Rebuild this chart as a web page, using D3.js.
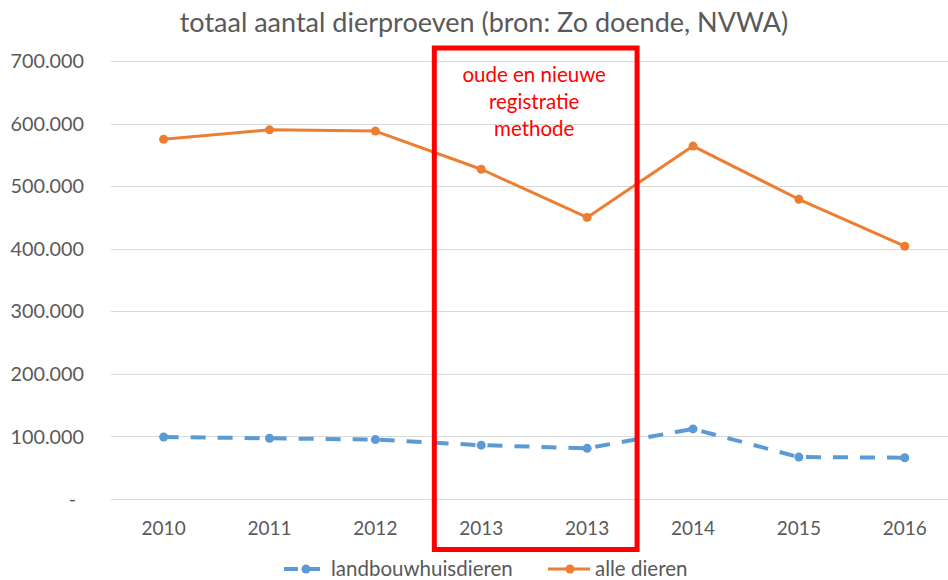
<!DOCTYPE html>
<html>
<head>
<meta charset="utf-8">
<script src="https://cdn.jsdelivr.net/npm/d3@7"></script>
<style>
  body { margin: 0; background: #fff; }
  svg { display: block; font-family: Lato, "Open Sans", sans-serif; }
</style>
</head>
<body>
<svg id="chart" width="948" height="580"></svg>
<script>
const years = ["2010", "2011", "2012", "2013", "2013", "2014", "2015", "2016"];
const landbouw = [99000, 97000, 95000, 86000, 81000, 112000, 67000, 66000];
const alleDieren = [575000, 590000, 588000, 527000, 450000, 564000, 479000, 404000];
const yTicks = [0, 100000, 200000, 300000, 400000, 500000, 600000, 700000];
const boxCats = [3, 4]; // the two 2013 columns

const svg = d3.select("#chart"),
      width = +svg.attr("width"),
      height = +svg.attr("height");

const x = d3.scaleBand()
    .domain(years.map((d, i) => i))
    .range([110.7, 957.7]);

const y = d3.scaleLinear()
    .domain([0, 700000])
    .range([499, 61]);

const nl = d3.formatLocale({ decimal: ",", thousands: ".", grouping: [3], currency: ["€", ""] });
const fmt = v => v === 0 ? "-" : nl.format(",")(v);

// title
svg.append("text")
    .attr("x", 484)
    .attr("y", 32)
    .attr("text-anchor", "middle")
    .style("font-size", "27px")
    .style("fill", "#595959")
    .text("totaal aantal dierproeven (bron: Zo doende, NVWA)");

// gridlines
svg.append("g")
    .selectAll("line")
    .data(yTicks)
    .enter().append("line")
    .attr("x1", x.range()[0])
    .attr("x2", x.range()[1])
    .attr("y1", d => Math.round(y(d)) + 0.5)
    .attr("y2", d => Math.round(y(d)) + 0.5)
    .style("stroke", "#d9d9d9")
    .style("stroke-width", 1);

// y labels
svg.append("g")
    .selectAll("text")
    .data(yTicks)
    .enter().append("text")
    .attr("x", d => d === 0 ? 76 : 84)
    .attr("y", d => y(d))
    .attr("dy", "0.36em")
    .attr("text-anchor", "end")
    .style("font-size", "19.8px")
    .style("fill", "#595959")
    .text(fmt);

// x labels
svg.append("g")
    .selectAll("text")
    .data(years)
    .enter().append("text")
    .attr("x", (d, i) => x(i) + x.bandwidth() / 2)
    .attr("y", 535)
    .attr("text-anchor", "middle")
    .style("font-size", "19px")
    .style("fill", "#595959")
    .text(d => d);

const cx = i => x(i) + x.bandwidth() / 2;
const line = d3.line().x((d, i) => cx(i)).y(d => y(d));

// series
const series = [
    { name: "landbouwhuisdieren", values: landbouw, color: "#5B9BD5", width: 4, dash: "15,12" },
    { name: "alle dieren", values: alleDieren, color: "#ED7D31", width: 3, dash: null }
];

series.forEach(s => {
    svg.append("path")
        .datum(s.values)
        .attr("d", line)
        .style("fill", "none")
        .style("stroke", s.color)
        .style("stroke-width", s.width)
        .style("stroke-dasharray", s.dash)
        .style("stroke-linejoin", "round");

    svg.append("g")
        .selectAll("circle")
        .data(s.values)
        .enter().append("circle")
        .attr("cx", (d, i) => cx(i))
        .attr("cy", d => y(d))
        .attr("r", 4.5)
        .style("fill", s.color);
});

// red annotation box around the two 2013 columns
svg.append("rect")
    .attr("x", x(boxCats[0]) + 6)
    .attr("y", 48)
    .attr("width", x(boxCats[1]) + x.bandwidth() - 3 - (x(boxCats[0]) + 6))
    .attr("height", 501.5)
    .style("fill", "none")
    .style("stroke", "#ff0000")
    .style("stroke-width", 5);

const boxMid = (x(boxCats[0]) + x(boxCats[1]) + x.bandwidth()) / 2;
svg.append("text")
    .attr("text-anchor", "middle")
    .style("font-size", "20.5px")
    .style("fill", "#ff0000")
    .selectAll("tspan")
    .data(["oude en nieuwe", "registratie", "methode"])
    .enter().append("tspan")
    .attr("x", boxMid)
    .attr("y", (d, i) => 82 + i * 27)
    .text(d => d);

// legend
const legend = svg.append("g")
    .selectAll("g")
    .data(series)
    .enter().append("g")
    .attr("transform", (d, i) => `translate(${i === 0 ? 284 : 548},569)`);

legend.append("line")
    .attr("x1", 0).attr("x2", 42)
    .style("stroke", d => d.color)
    .style("stroke-width", d => d.width)
    .style("stroke-dasharray", d => d.dash ? "14,8" : null);

legend.append("circle")
    .attr("cx", 22)
    .attr("r", 4.5)
    .style("fill", d => d.color);

legend.append("text")
    .attr("x", 47)
    .attr("dy", "0.34em")
    .style("font-size", "20.5px")
    .style("fill", "#595959")
    .text(d => d.name);
</script>
</body>
</html>
